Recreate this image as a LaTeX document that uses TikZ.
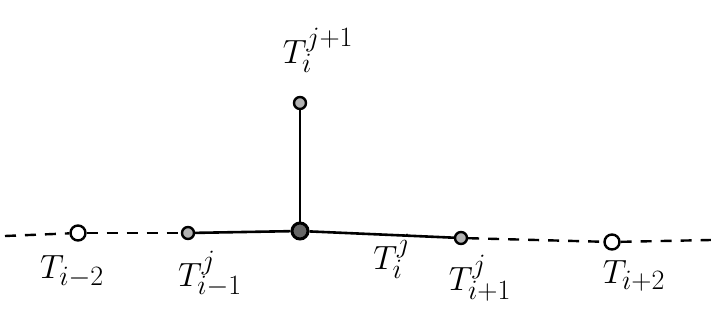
\documentclass[tikz,border=0pt]{standalone}
\usepackage{graphicx}
\begin{document}
\begin{tikzpicture}[x=1pt,y=-1pt,
  line width=2.6pt,
  pt/.style={circle,draw,inner sep=0pt,minimum size=12pt,line width=2.4pt},
  opt/.style={pt,fill=white,minimum size=15pt},
  hpt/.style={pt,fill=gray!60},
  cpt/.style={pt,fill=gray!80!black,minimum size=16pt,line width=3pt},
  lab/.style={font=\fontsize{24.88}{28}\selectfont,inner sep=0pt},
  dsh/.style={dash pattern=on 11pt off 9pt,line width=2.4pt}]
\useasboundingbox (0,0) rectangle (711,321);
\coordinate (L) at (5,236);
\coordinate (R) at (711,240);
\node[opt] (a) at (78,233) {};
\node[hpt] (b) at (188,233) {};
\node[cpt] (c) at (300,231) {};
\node[hpt] (d) at (461,238) {};
\node[opt] (e) at (612,242) {};
\node[hpt] (t) at (300,103) {};
\draw[dsh] (L) -- (a);
\draw[dsh] (a) -- (b);
\draw (b) -- (c) -- (d);
\draw (c) -- (t);
\draw[dsh] (d) -- (e);
\draw[dsh] (e) -- (R);
\node[lab] (la) at (72,272) {\scalebox{1.35}{$T_{i-2}$}};
\node[lab] (lb) at (210,274) {\scalebox{1.35}{$T^{j}_{i-1}$}};
\node[lab] (lc) at (392,256) {\scalebox{1.35}{$T^{j}_{i}$}};
\node[lab] (ld) at (480,278) {\scalebox{1.35}{$T^{j}_{i+1}$}};
\node[lab] (le) at (634,276) {\scalebox{1.35}{$T_{i+2}$}};
\node[lab] (lt) at (318,50) {\scalebox{1.35}{$T^{j+1}_{i}$}};
\end{tikzpicture}
\end{document}
